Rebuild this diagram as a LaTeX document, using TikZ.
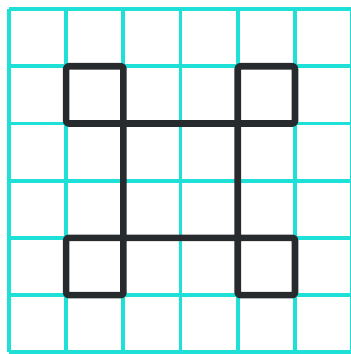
\documentclass[tikz,border=0pt]{standalone}
\definecolor{gridcyan}{RGB}{30,224,214}
\definecolor{inkgray}{RGB}{40,43,46}
\tikzset{
  gridline/.style={gridcyan,line width=1.9pt},
  figline/.style={inkgray,line width=3.3pt,line join=round,rounded corners=1.2pt}
}
\begin{document}
\begin{tikzpicture}
    \useasboundingbox (0,0) rectangle (6.136,6.189);
    \fill[white] (0,0) rectangle (6.136,6.189);
    \begin{scope}[shift={(0.157,0.03)}]
    % squared paper
    \foreach \i in {0,...,6} {
      \draw[gridline] (\i,0) -- (\i,6);
      \draw[gridline] (0,\i) -- (6,\i);
    }
    % centre square
    \draw[figline] (2,2) rectangle (4,4);
    % corner squares
    \draw[figline] (1,4) rectangle (2,5);
    \draw[figline] (4,4) rectangle (5,5);
    \draw[figline] (1,1) rectangle (2,2);
    \draw[figline] (4,1) rectangle (5,2);
    \end{scope}
\end{tikzpicture}
\end{document}
